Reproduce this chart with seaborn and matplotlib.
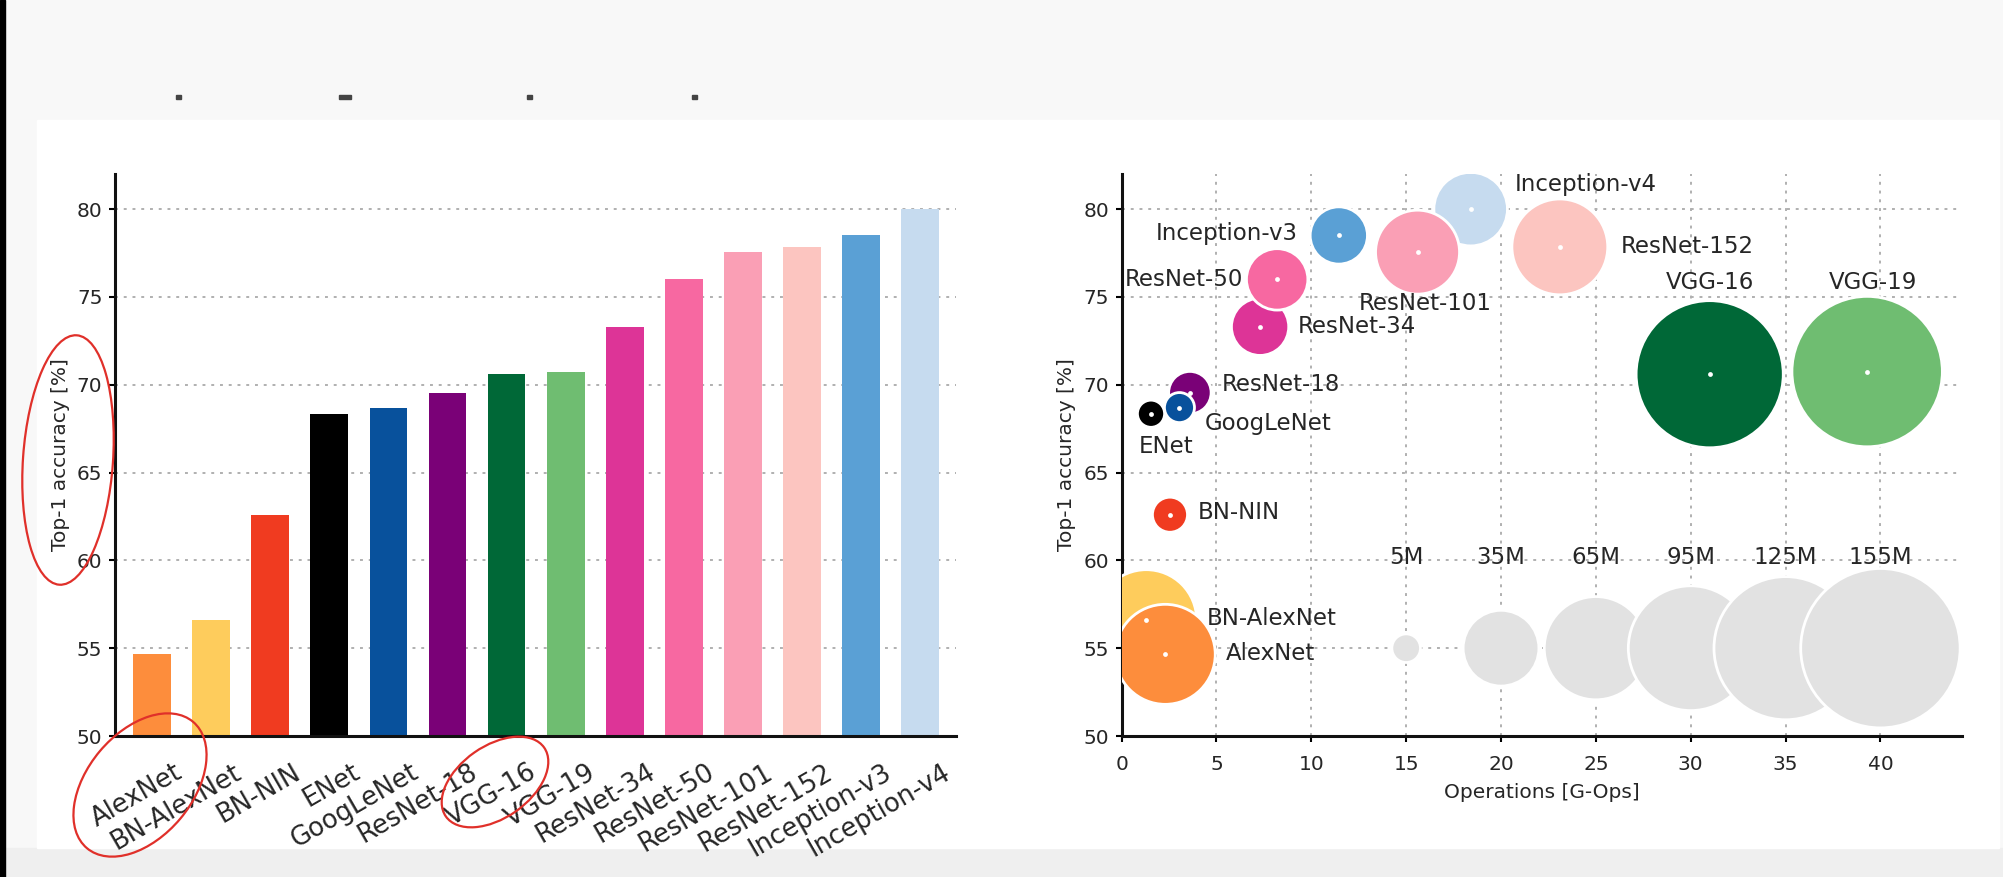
import numpy as np
import pandas as pd
import matplotlib
matplotlib.use("Agg")
import matplotlib.pyplot as plt
import matplotlib.transforms as mtransforms
import seaborn as sns
from matplotlib.patches import Ellipse, Rectangle

# ---------------- data ----------------
models = ["AlexNet", "BN-AlexNet", "BN-NIN", "ENet", "GoogLeNet", "ResNet-18",
          "VGG-16", "VGG-19", "ResNet-34", "ResNet-50", "ResNet-101",
          "ResNet-152", "Inception-v3", "Inception-v4"]
top1_acc = [54.65, 56.6, 62.6, 68.35, 68.7, 69.55, 70.6, 70.75, 73.3, 76.0,
            77.55, 77.85, 78.5, 80.0]
ops_gops = [2.3, 1.3, 2.55, 1.55, 3.05, 3.6, 31.0, 39.3, 7.3, 8.2, 15.6,
            23.1, 11.45, 18.4]
params_m = [61, 62, 7.5, 4.5, 5.5, 11, 132, 138, 20, 23, 43, 56, 20, 33]
colors = ["#fd8d3c", "#fecc5c", "#f03b20", "#000000", "#08519c", "#7a0177",
          "#006837", "#6fbd71", "#dd3497", "#f768a1", "#fa9fb5", "#fcc5c0",
          "#5aa0d5", "#c6dbef"]

legend_labels = ["5M", "35M", "65M", "95M", "125M", "155M"]
legend_params = [5, 35, 65, 95, 125, 155]
legend_ops = [15, 20, 25, 30, 35, 40]
legend_acc = [55, 55, 55, 55, 55, 55]

# drawing order of bubbles (later = on top)
draw_order = ["BN-AlexNet", "AlexNet", "BN-NIN", "ResNet-18", "ENet",
              "GoogLeNet", "ResNet-34", "ResNet-50", "Inception-v3",
              "Inception-v4", "ResNet-101", "ResNet-152", "VGG-16", "VGG-19"]

# label placement (data coords, alignment)
label_pos = {
    "Inception-v4": (20.7, 81.4, "left"),
    "Inception-v3": (9.3, 78.6, "right"),
    "ResNet-152": (26.3, 77.9, "left"),
    "ResNet-50": (6.4, 76.0, "right"),
    "ResNet-101": (12.5, 74.6, "left"),
    "ResNet-34": (9.3, 73.3, "left"),
    "VGG-16": (31.0, 75.8, "center"),
    "VGG-19": (39.6, 75.8, "center"),
    "ResNet-18": (5.3, 70.0, "left"),
    "GoogLeNet": (4.4, 67.8, "left"),
    "ENet": (0.9, 66.5, "left"),
    "BN-NIN": (4.0, 62.7, "left"),
    "BN-AlexNet": (4.5, 56.7, "left"),
    "AlexNet": (5.5, 54.7, "left"),
}

# ---------------- figure ----------------
W, H = 2003, 877
fig = plt.figure(figsize=(W / 100, H / 100), dpi=100)
fig.patch.set_facecolor("#f7f7f7")

# background slide decoration
bg = fig.add_axes([0, 0, 1, 1], zorder=-10)
bg.set_xlim(0, W); bg.set_ylim(0, H); bg.axis("off")
bg.add_patch(Rectangle((0, 0), W, H, color="#f8f8f8"))
bg.add_patch(Rectangle((0, 0), W, H - 848, color="#efefef"))
bg.add_patch(Rectangle((37, H - 848), 1962, 848 - 120, color="white"))
bg.add_patch(Rectangle((0, 0), 5, H, color="black"))
for (x0, w0) in [(176, 5), (339, 12), (527, 5), (692, 5)]:
    bg.add_patch(Rectangle((x0, H - 99), w0, 4, color="#444444"))

text_col = "#262626"
plt.rcParams["font.family"] = ["DejaVu Sans"]

# ---------------- left: bar chart ----------------
ax1 = fig.add_axes([115 / W, (H - 736) / H, (956 - 115) / W, (736 - 174) / H])
df_bar = pd.DataFrame({"model": models, "acc": top1_acc})
sns.barplot(data=df_bar, x="model", y="acc", hue="model", palette=colors,
            saturation=1, width=0.64, legend=False, ax=ax1)
ax1.set_xlim(-0.63, 13.61)
ax1.set_ylim(50, 82)
ax1.set_yticks([50, 55, 60, 65, 70, 75, 80])
ax1.set_xlabel("")
ax1.set_ylabel("Top-1 accuracy [%]", fontsize=14.5, color=text_col, labelpad=5)
ax1.yaxis.grid(True, linestyle=(0, (1.5, 3)), color="#b0b0b0", lw=1.4)
ax1.set_axisbelow(True)
ax1.tick_params(axis="y", labelsize=14.5, labelcolor=text_col, length=4,
                width=1.5, pad=5)
ax1.tick_params(axis="x", labelsize=18.5, labelcolor=text_col, length=0, pad=6)
shift = mtransforms.ScaledTranslation(22 / 100, -15 / 100, fig.dpi_scale_trans)
for lbl in ax1.get_xticklabels():
    lbl.set_rotation(30)
    lbl.set_ha("right")
    lbl.set_rotation_mode("anchor")
    lbl.set_transform(lbl.get_transform() + shift)
for s in ["top", "right"]:
    ax1.spines[s].set_visible(False)
for s in ["left", "bottom"]:
    ax1.spines[s].set_linewidth(2.2)
    ax1.spines[s].set_color("#111111")

# ---------------- right: bubble chart ----------------
ax2 = fig.add_axes([1121.6 / W, (H - 736) / H, (1962 - 1121.6) / W, (736 - 174) / H])
K = 85.0  # pt^2 per million parameters
df_b = pd.DataFrame({"model": models, "ops": ops_gops, "acc": top1_acc,
                     "params": params_m})
df_b = df_b.set_index("model").loc[draw_order].reset_index()
pal = dict(zip(models, colors))

df_leg = pd.DataFrame({"ops": legend_ops, "acc": legend_acc,
                       "params": legend_params})
sns.scatterplot(data=df_leg, x="ops", y="acc", size="params",
                sizes=(0, 155 * K), size_norm=(0, 155), color="#e2e2e2",
                edgecolor="white", linewidth=2, legend=False, ax=ax2, zorder=3)
sns.scatterplot(data=df_b, x="ops", y="acc", hue="model", palette=pal,
                size="params", sizes=(0, 155 * K), size_norm=(0, 155),
                edgecolor="white", linewidth=2, legend=False, ax=ax2, zorder=4)
sns.scatterplot(data=df_b, x="ops", y="acc", color="white", s=12,
                linewidth=0, legend=False, ax=ax2, zorder=5)

for name, (tx, ty, ha) in label_pos.items():
    ax2.text(tx, ty, name, ha=ha, va="center", fontsize=16.5, color=text_col,
             zorder=6)
for lx, lab in zip(legend_ops, legend_labels):
    ax2.text(lx, 60.15, lab, ha="center", va="center", fontsize=16.5,
             color=text_col, zorder=6)

ax2.set_xlim(0, 44.3)
ax2.set_ylim(50, 82)
ax2.set_xticks([0, 5, 10, 15, 20, 25, 30, 35, 40])
ax2.set_yticks([50, 55, 60, 65, 70, 75, 80])
ax2.set_xlabel("Operations [G-Ops]", fontsize=14.5, color=text_col, labelpad=6)
ax2.set_ylabel("Top-1 accuracy [%]", fontsize=14.5, color=text_col, labelpad=5)
ax2.grid(True, linestyle=(0, (1.5, 3)), color="#b0b0b0", lw=1.4)
ax2.set_axisbelow(True)
ax2.tick_params(axis="y", labelsize=14.5, labelcolor=text_col, length=4,
                width=1.5, pad=5)
ax2.tick_params(axis="x", labelsize=14.5, labelcolor=text_col, length=4,
                width=1.5, pad=10)
for s in ["top", "right"]:
    ax2.spines[s].set_visible(False)
for s in ["left", "bottom"]:
    ax2.spines[s].set_linewidth(2.2)
    ax2.spines[s].set_color("#111111")

# ---------------- hand-drawn red marks ----------------
top = fig.add_axes([0, 0, 1, 1], zorder=20)
top.set_xlim(0, W); top.set_ylim(0, H); top.axis("off")
top.patch.set_alpha(0)
red = "#e0302a"
top.add_patch(Ellipse((68, H - 460), 90, 250, angle=-4, fill=False, ec=red, lw=1.6))
top.add_patch(Ellipse((140, H - 785), 165, 105, angle=50, fill=False, ec=red, lw=1.6))
top.add_patch(Ellipse((495, H - 782), 120, 72, angle=35, fill=False, ec=red, lw=1.6))

fig.savefig("out.png", dpi=100, facecolor=fig.get_facecolor())
